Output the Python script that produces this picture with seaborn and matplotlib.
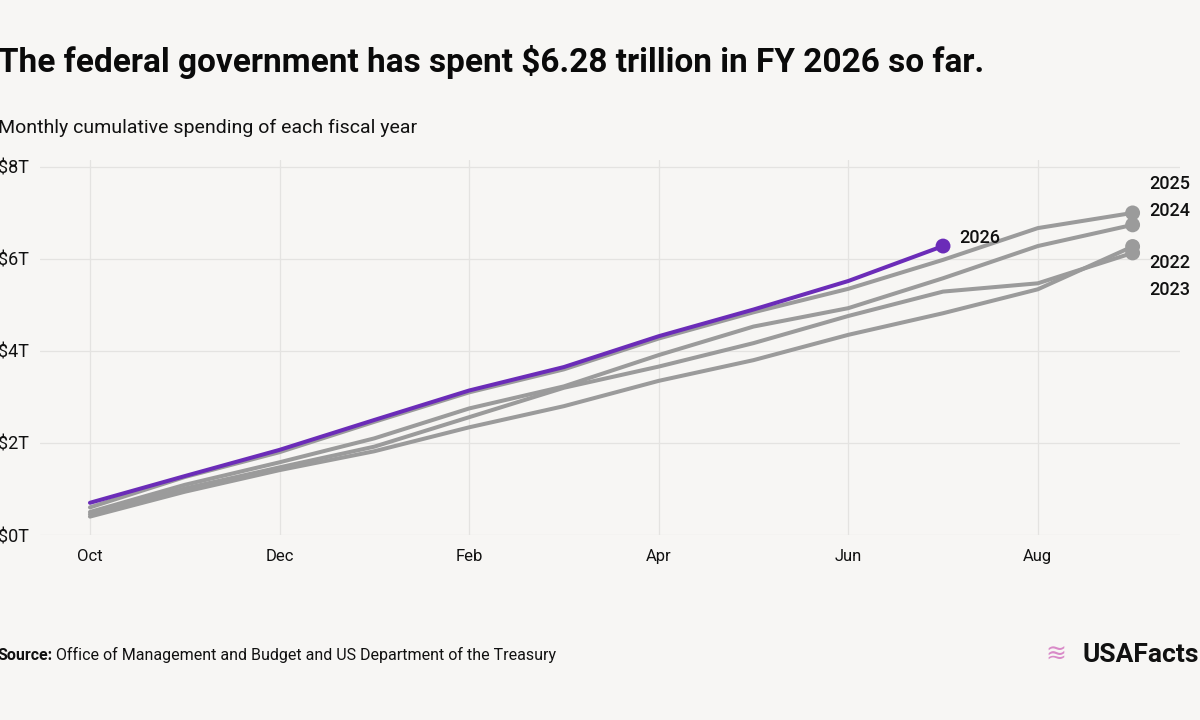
import numpy as np
import pandas as pd
import matplotlib
matplotlib.use("Agg")
import matplotlib.pyplot as plt
import seaborn as sns

months = ["Oct", "Nov", "Dec", "Jan", "Feb", "Mar", "Apr", "May", "Jun", "Jul", "Aug", "Sep"]
fy2022 = [0.40, 0.94, 1.41, 1.82, 2.34, 2.80, 3.35, 3.80, 4.35, 4.82, 5.34, 6.27]
fy2023 = [0.45, 1.01, 1.47, 1.92, 2.56, 3.20, 3.66, 4.17, 4.76, 5.29, 5.47, 6.13]
fy2024 = [0.50, 1.09, 1.58, 2.10, 2.75, 3.23, 3.91, 4.53, 4.93, 5.58, 6.28, 6.74]
fy2025 = [0.60, 1.26, 1.80, 2.46, 3.10, 3.60, 4.27, 4.84, 5.35, 5.98, 6.67, 7.00]
fy2026 = [0.70, 1.28, 1.85, 2.50, 3.14, 3.65, 4.32, 4.90, 5.52, 6.28]
years = ["2022", "2023", "2024", "2025", "2026"]
series = [fy2022, fy2023, fy2024, fy2025, fy2026]
yticks = [0, 2, 4, 6, 8]
ytick_labels = ["$0T", "$2T", "$4T", "$6T", "$8T"]
xtick_months = ["Oct", "Dec", "Feb", "Apr", "Jun", "Aug"]

rows = []
for yr, vals in zip(years, series):
    for i, v in enumerate(vals):
        rows.append({"year": yr, "month": months[i], "idx": i, "value": v})
df = pd.DataFrame(rows)
last = df.groupby("year").tail(1)

BG = "#f7f6f4"
GRAY = "#9b9b9b"
PURPLE = "#6b2cb8"
palette = {"2022": GRAY, "2023": GRAY, "2024": GRAY, "2025": GRAY, "2026": PURPLE}

sns.set_theme(style="white")
plt.rcParams["font.family"] = ["Roboto", "DejaVu Sans"]

fig = plt.figure(figsize=(12, 7.2), dpi=100, facecolor=BG)
ax = fig.add_axes([40/1200, 1-535/720, 1140/1200, 375/720])
ax.set_facecolor(BG)

sns.lineplot(data=df, x="idx", y="value", hue="year", hue_order=years, palette=palette,
             linewidth=2.9, legend=False, ax=ax, sort=True)
sns.scatterplot(data=last, x="idx", y="value", hue="year", hue_order=years, palette=palette,
                s=115, linewidth=0, legend=False, ax=ax, zorder=5)

ax.set_xlim(-0.527, 11.5)
ax.set_ylim(0, 8.15)
ax.set_xticks([months.index(m) for m in xtick_months])
ax.set_xticklabels(xtick_months)
ax.set_yticks(yticks)
ax.set_yticklabels(ytick_labels)
ax.set_xlabel("")
ax.set_ylabel("")
for s in ax.spines.values():
    s.set_visible(False)
ax.grid(True, color="#e4e3e1", linewidth=0.9)
ax.set_axisbelow(True)
ax.tick_params(axis="x", length=0, pad=10, labelsize=12, labelcolor="#111111")
ax.tick_params(axis="y", length=0, pad=30, labelsize=13, labelcolor="#111111")
for lbl in ax.get_yticklabels():
    lbl.set_horizontalalignment("left")

# year labels at line ends
offsets = {"2026": (12, 6), "2025": (12, 21), "2024": (12, 10), "2022": (12, -12), "2023": (12, -27)}
for _, r in last.iterrows():
    dx, dy = offsets[r["year"]]
    ax.annotate(r["year"], (r["idx"], r["value"]), xytext=(dx, dy), textcoords="offset points",
                ha="left", va="center", fontsize=13, color="#111111", fontweight="medium")

fig.text(-0.002, 1-62/720, "The federal government has spent $6.28 trillion in FY 2026 so far.",
         fontsize=24, fontweight="bold", color="#0a0a0a", ha="left", va="center")
fig.text(-0.002, 1-128/720, "Monthly cumulative spending of each fiscal year",
         fontsize=14, color="#111111", ha="left", va="center")
t1 = fig.text(-0.002, 1-655/720, "Source:", fontsize=11.5, fontweight="bold", color="#111111",
              ha="left", va="center")
fig.canvas.draw()
bb = t1.get_window_extent()
fig.text(bb.x1/1200 + 0.003, 1-655/720, "Office of Management and Budget and US Department of the Treasury",
         fontsize=11.5, color="#111111", ha="left", va="center")
fig.text(0.999, 1-655/720, "USAFacts", fontsize=19, fontweight="bold", color="#111111",
         ha="right", va="center")
fig.text(0.889, 1-655/720, "≋", fontsize=18, color="#d98ac8", ha="right", va="center",
         family="DejaVu Sans")

fig.savefig("out.png", dpi=100, facecolor=BG)
